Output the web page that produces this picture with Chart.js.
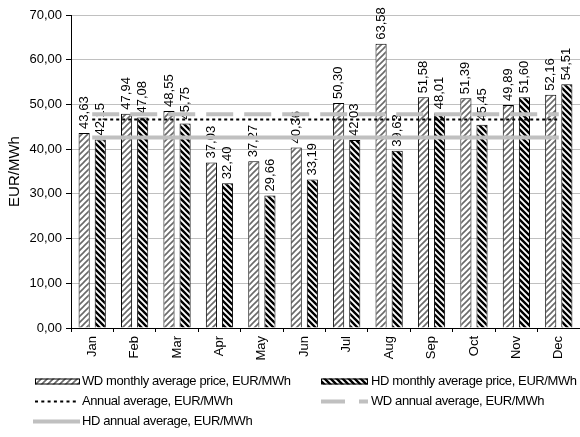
<!DOCTYPE html>
<html>
<head>
<meta charset="utf-8">
<script src="https://cdn.jsdelivr.net/npm/chart.js@4/dist/chart.umd.min.js"></script>
<style>
  html, body { margin: 0; padding: 0; background: #fff; }
  #wrap { width: 580px; height: 437px; }
</style>
</head>
<body>
<div id="wrap"><canvas id="c" width="580" height="437"></canvas></div>
<script>
// Monthly average electricity prices, working days (WD) vs holidays (HD)
const months = ['Jan', 'Feb', 'Mar', 'Apr', 'May', 'Jun', 'Jul', 'Aug', 'Sep', 'Oct', 'Nov', 'Dec'];
const wdMonthly = [43.63, 47.94, 48.55, 37.03, 37.27, 40.36, 50.30, 63.58, 51.58, 51.39, 49.89, 52.16];
const hdMonthly = [42.15, 47.08, 45.75, 32.40, 29.66, 33.19, 42.03, 39.63, 48.01, 45.45, 51.60, 54.51];
const annualAverage = 46.65;
const wdAnnualAverage = 47.81;
const hdAnnualAverage = 42.62;
const yTicks = [0, 10, 20, 30, 40, 50, 60, 70];

const seriesNames = [
  'WD monthly average price, EUR/MWh',
  'HD monthly average price, EUR/MWh',
  'Annual average, EUR/MWh',
  'WD annual average, EUR/MWh',
  'HD annual average, EUR/MWh'
];

const FONT = '"Liberation Sans", Arial, sans-serif';
Chart.defaults.font.family = FONT;
Chart.defaults.color = '#000';

const fmt = v => v.toFixed(2).replace('.', ',');

const canvas = document.getElementById('c');
const mainCtx = canvas.getContext('2d');

// Diagonal hatch fills for the bars
function makeHatch(direction, color, lineWidth) {
  const size = 6;
  const t = document.createElement('canvas');
  t.width = size; t.height = size;
  const g = t.getContext('2d');
  g.fillStyle = '#fff';
  g.fillRect(0, 0, size, size);
  g.strokeStyle = color;
  g.lineWidth = lineWidth;
  g.beginPath();
  if (direction === 'up') {
    g.moveTo(-1, size + 1); g.lineTo(size + 1, -1);
    g.moveTo(-1, 1); g.lineTo(1, -1);
    g.moveTo(size - 1, size + 1); g.lineTo(size + 1, size - 1);
  } else {
    g.moveTo(-1, -1); g.lineTo(size + 1, size + 1);
    g.moveTo(size - 1, -1); g.lineTo(size + 1, 1);
    g.moveTo(-1, size - 1); g.lineTo(1, size + 1);
  }
  g.stroke();
  return mainCtx.createPattern(t, 'repeat');
}
const wdHatch = makeHatch('up', '#6a6a6a', 1.6);
const hdHatch = makeHatch('down', '#000', 2.4);

const GRAY_LINE = '#c0c0c0';

// Rotated value labels above every bar
const barValueLabels = {
  id: 'barValueLabels',
  afterDatasetDraw(chart, args) {
    if (args.meta.type !== 'bar') return;
    const ds = chart.data.datasets[args.index];
    const ctx = chart.ctx;
    ctx.save();
    ctx.font = '13px ' + FONT;
    ctx.fillStyle = '#000';
    ctx.textAlign = 'left';
    ctx.textBaseline = 'middle';
    args.meta.data.forEach((bar, i) => {
      ctx.save();
      ctx.translate(bar.x, bar.y - 4);
      ctx.rotate(-Math.PI / 2);
      ctx.fillText(fmt(ds.data[i]), 0, 0);
      ctx.restore();
    });
    ctx.restore();
  }
};

// Legend block under the axis
const bottomLegend = {
  id: 'bottomLegend',
  afterDraw(chart) {
    const ctx = chart.ctx;
    const ds = chart.data.datasets;
    ctx.save();
    ctx.font = '13px ' + FONT;
    ctx.fillStyle = '#000';
    ctx.textAlign = 'left';
    ctx.textBaseline = 'middle';
    if ('letterSpacing' in ctx) ctx.letterSpacing = '-0.4px';

    const items = [
      { i: 0, x0: 35, x1: 80, y: 381.5, tx: 82 },
      { i: 1, x0: 321, x1: 368, y: 381.5, tx: 371 },
      { i: 2, x0: 35, x1: 76, y: 401.5, tx: 82 },
      { i: 3, x0: 321, x1: 368, y: 401.5, tx: 371 },
      { i: 4, x0: 33, x1: 80, y: 421.5, tx: 82 }
    ];
    items.forEach(it => {
      const d = ds[it.i];
      if (d.type === 'line') {
        ctx.save();
        ctx.strokeStyle = d.borderColor;
        ctx.lineWidth = d.borderWidth;
        ctx.setLineDash(d.legendDash || []);
        ctx.beginPath();
        ctx.moveTo(it.x0, it.y);
        ctx.lineTo(it.x1, it.y);
        ctx.stroke();
        ctx.restore();
      } else {
        ctx.save();
        ctx.fillStyle = d.backgroundColor;
        ctx.fillRect(it.x0, it.y - 3, it.x1 - it.x0, 6);
        ctx.strokeStyle = '#000';
        ctx.lineWidth = 1;
        ctx.strokeRect(it.x0 + 0.5, it.y - 3 + 0.5, it.x1 - it.x0 - 1, 5);
        ctx.restore();
      }
      ctx.fillText(d.label, it.tx, it.y);
    });
    ctx.restore();
  }
};

new Chart(canvas, {
  type: 'bar',
  data: {
    labels: months,
    datasets: [
      {
        label: seriesNames[0],
        data: wdMonthly,
        backgroundColor: wdHatch,
        borderColor: '#000',
        borderWidth: 1,
        categoryPercentage: 0.76,
        barPercentage: 0.69,
        order: 3
      },
      {
        label: seriesNames[1],
        data: hdMonthly,
        backgroundColor: hdHatch,
        borderColor: '#000',
        borderWidth: 1,
        categoryPercentage: 0.76,
        barPercentage: 0.69,
        order: 3
      },
      {
        type: 'line',
        label: seriesNames[2],
        data: months.map(() => annualAverage),
        borderColor: '#000',
        borderWidth: 2,
        borderDash: [3, 3],
        legendDash: [3, 3.3],
        borderCapStyle: 'butt',
        pointRadius: 0,
        fill: false,
        order: 1
      },
      {
        type: 'line',
        label: seriesNames[3],
        data: months.map(() => wdAnnualAverage),
        borderColor: GRAY_LINE,
        borderWidth: 4,
        borderDash: [27, 11],
        legendDash: [24, 14],
        borderCapStyle: 'butt',
        pointRadius: 0,
        fill: false,
        order: 1
      },
      {
        type: 'line',
        label: seriesNames[4],
        data: months.map(() => hdAnnualAverage),
        borderColor: GRAY_LINE,
        borderWidth: 4,
        borderCapStyle: 'butt',
        pointRadius: 0,
        fill: false,
        order: 1
      }
    ]
  },
  options: {
    responsive: false,
    animation: false,
    layout: { padding: { top: 15, left: 0, right: 0, bottom: 69 } },
    plugins: {
      legend: { display: false },
      tooltip: { enabled: false }
    },
    scales: {
      x: {
        offset: true,
        grid: {
          offset: true,
          drawOnChartArea: false,
          drawTicks: true,
          tickLength: 4,
          tickColor: '#000'
        },
        border: { color: '#000', width: 1 },
        ticks: {
          autoSkip: false,
          minRotation: 90,
          maxRotation: 90,
          padding: 4,
          font: { size: 13 },
          color: '#000'
        },
        afterFit(scale) { scale.height = 40; }
      },
      y: {
        min: 0,
        max: 70,
        afterBuildTicks(scale) { scale.ticks = yTicks.map(v => ({ value: v })); },
        grid: {
          color: GRAY_LINE,
          lineWidth: 1,
          tickLength: 5,
          tickColor: '#000'
        },
        border: { color: '#000', width: 1 },
        ticks: {
          padding: 4,
          font: { size: 13 },
          color: '#000',
          callback: v => fmt(v)
        },
        title: {
          display: true,
          text: 'EUR/MWh',
          font: { size: 15 },
          color: '#000',
          padding: { top: 6, bottom: 0 }
        },
        afterFit(scale) { scale.width = 71; }
      }
    }
  },
  plugins: [barValueLabels, bottomLegend]
});
</script>
</body>
</html>
